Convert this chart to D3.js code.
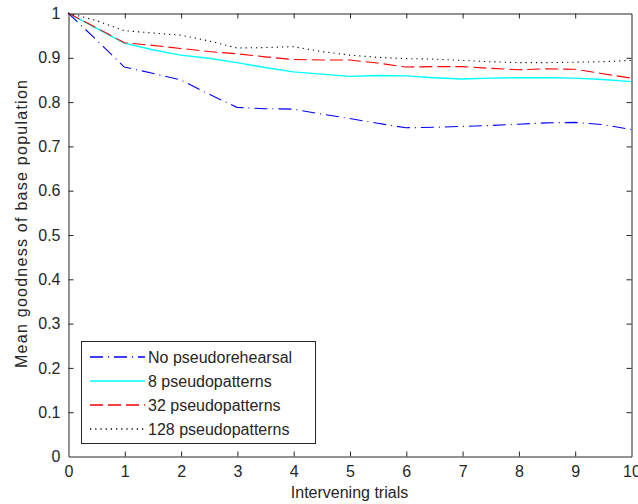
<!DOCTYPE html>
<html>
<head>
<meta charset="utf-8">
<script src="https://cdn.jsdelivr.net/npm/d3@7"></script>
<style>
  html, body { margin: 0; padding: 0; background: #fff; }
  svg { display: block; }
  text { font-family: "Liberation Sans", Arial, sans-serif; fill: #262626; }
</style>
</head>
<body>
<svg id="chart" width="638" height="504"></svg>
<script>
const trials = [0, 0.5, 1, 1.5, 2, 2.5, 3, 3.5, 4, 4.5, 5, 5.5, 6, 6.5, 7, 7.5, 8, 8.5, 9, 9.5, 10];
const noPseudo = [1.0, 0.94, 0.878, 0.864, 0.849, 0.817, 0.787, 0.784, 0.783, 0.772, 0.762, 0.751, 0.741, 0.742, 0.744, 0.746, 0.749, 0.752, 0.753, 0.748, 0.737];
const pseudo8 = [1.0, 0.966, 0.932, 0.917, 0.905, 0.898, 0.888, 0.877, 0.867, 0.862, 0.857, 0.859, 0.858, 0.854, 0.851, 0.853, 0.854, 0.854, 0.853, 0.850, 0.845];
const pseudo32 = [1.0, 0.967, 0.933, 0.927, 0.920, 0.913, 0.908, 0.901, 0.895, 0.894, 0.894, 0.887, 0.878, 0.879, 0.879, 0.875, 0.872, 0.874, 0.873, 0.863, 0.853];
const pseudo128 = [1.0, 0.983, 0.960, 0.955, 0.950, 0.937, 0.921, 0.922, 0.924, 0.913, 0.905, 0.900, 0.897, 0.896, 0.893, 0.890, 0.888, 0.888, 0.889, 0.890, 0.893];
const seriesNames = ["No pseudorehearsal", "8 pseudopatterns", "32 pseudopatterns", "128 pseudopatterns"];
const seriesColors = ["#0000ff", "#00ffff", "#ff0000", "#000000"];
const seriesDash = ["13,5,1,5", null, "13,5", "1.2,4"];
const xTicks = [0, 1, 2, 3, 4, 5, 6, 7, 8, 9, 10];
const yTicks = [0, 0.1, 0.2, 0.3, 0.4, 0.5, 0.6, 0.7, 0.8, 0.9, 1];
const xTitle = "Intervening trials";
const yTitle = "Mean goodness of base population";

const allSeries = [noPseudo, pseudo8, pseudo32, pseudo128];

const L = 68, R = 631, T = 13, B = 456;
const svg = d3.select("#chart");
const x = d3.scaleLinear().domain([0, 10]).range([L, R]);
const y = d3.scaleLinear().domain([0, 1]).range([B, T]);

// data lines
const line = d3.line().x((d, i) => x(trials[i])).y(d => y(d));
allSeries.forEach((s, k) => {
  svg.append("path")
    .datum(s)
    .attr("d", line)
    .attr("fill", "none")
    .attr("stroke", seriesColors[k])
    .attr("stroke-width", k === 1 ? 1.4 : 1.1)
    .attr("stroke-dasharray", seriesDash[k]);
});

// axes (MATLAB-style box with inward ticks)
const axColor = "#262626";
const tickLen = 5;
const gx = svg.append("g").attr("transform", `translate(0.5,${B + 0.5})`)
  .call(d3.axisBottom(x).tickValues(xTicks).tickSizeInner(-tickLen).tickSizeOuter(0).tickPadding(9).tickFormat(d3.format("d")));
const gxTop = svg.append("g").attr("transform", `translate(0.5,${T + 0.5})`)
  .call(d3.axisTop(x).tickValues(xTicks).tickSizeInner(-tickLen).tickSizeOuter(0).tickFormat(""));
const gy = svg.append("g").attr("transform", `translate(${L + 0.5},0.5)`)
  .call(d3.axisLeft(y).tickValues(yTicks).tickSizeInner(-tickLen).tickSizeOuter(0).tickPadding(8).tickFormat(d => d === 0 ? "0" : d === 1 ? "1" : d3.format(".1f")(d)));
const gyR = svg.append("g").attr("transform", `translate(${R + 0.5},0.5)`)
  .call(d3.axisRight(y).tickValues(yTicks).tickSizeInner(-tickLen).tickSizeOuter(0).tickFormat(""));

[gx, gxTop, gy, gyR].forEach(g => {
  g.selectAll(".domain").attr("stroke", axColor);
  g.selectAll(".tick line").attr("stroke", axColor);
  g.selectAll("text").attr("font-size", 16).attr("fill", axColor)
    .attr("font-family", '"Liberation Sans", Arial, sans-serif');
});
gx.selectAll(".tick").filter(d => d === 0 || d === 10).select("line").remove();
gxTop.selectAll(".tick").filter(d => d === 0 || d === 10).select("line").remove();
gy.selectAll(".tick").filter(d => d === 0 || d === 1).select("line").remove();
gyR.selectAll(".tick").filter(d => d === 0 || d === 1).select("line").remove();

// axis titles
svg.append("text")
  .attr("x", (L + R) / 2).attr("y", 498)
  .attr("text-anchor", "middle").attr("font-size", 16)
  .text(xTitle);
svg.append("text")
  .attr("transform", `translate(27,${(78 + 370) / 2}) rotate(-90)`)
  .attr("text-anchor", "middle").attr("font-size", 16)
  .attr("textLength", 288).attr("lengthAdjust", "spacing")
  .text(yTitle);

// legend
const lg = svg.append("g");
lg.append("rect")
  .attr("x", 81.5).attr("y", 341.5).attr("width", 234).attr("height", 102)
  .attr("fill", "#fff").attr("stroke", axColor).attr("stroke-width", 1);
seriesNames.forEach((name, k) => {
  const cy = 357 + 24 * k;
  lg.append("line")
    .attr("x1", 90).attr("x2", 145).attr("y1", cy).attr("y2", cy)
    .attr("stroke", seriesColors[k])
    .attr("stroke-width", k === 1 ? 1.6 : 1.3)
    .attr("stroke-dasharray", seriesDash[k]);
  lg.append("text")
    .attr("x", 148).attr("y", cy + 0.5).attr("dy", "0.36em")
    .attr("font-size", 16)
    .text(name);
});
</script>
</body>
</html>
